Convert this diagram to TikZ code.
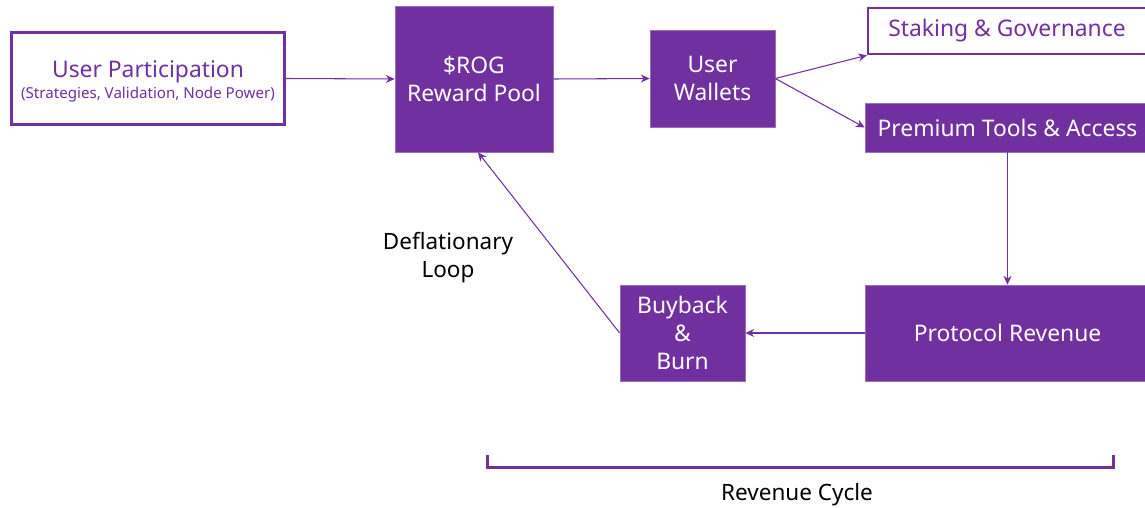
\documentclass[tikz,border=0pt]{standalone}
\usepackage{fontspec}
\setmainfont{Noto Sans}
\usetikzlibrary{arrows.meta}
\definecolor{rogpurple}{HTML}{7030A0}

\begin{document}
\begin{tikzpicture}[x=0.02cm, y=-0.02cm,
        solidbox/.style={fill=rogpurple, draw=rogpurple!70!white, line width=0.4pt, text=white, align=center, inner sep=0pt, font=\fontsize{13}{15.9}\selectfont},
        openbox/.style={fill=white, draw=rogpurple, text=rogpurple, align=center, inner sep=0pt, font=\fontsize{13}{15.9}\selectfont},
        flow/.style={rogpurple, line width=0.6pt, -{Stealth[length=5pt, width=4.5pt]}},
        caption/.style={align=center, text=black, font=\fontsize{12.8}{15.9}\selectfont}]
        \clip (0,0) rectangle (1145,507);
        \fill[white] (0,0) rectangle (1145,507);
        \node [openbox, line width=1.7pt, minimum width=5.46cm, minimum height=1.84cm] (part) at (148,78.5) {};
        \node [text=rogpurple, align=center, inner sep=0pt, font=\fontsize{13}{15.9}\selectfont] (parttext) at (148,81)
            {User Participation\\[-4pt]{\fontsize{8.6}{10}\selectfont(Strategies, Validation, Node Power)}};
        \node [solidbox, minimum width=3.16cm, minimum height=2.92cm] (pool) at (474,79) {\$ROG\\Reward Pool};
        \node [solidbox, minimum width=2.5cm, minimum height=1.94cm] (wallets) at (712.5,78.5) {User\\Wallets};
        \node [openbox, line width=1.3pt, anchor=north west, minimum width=5.7cm, minimum height=0.92cm] (staking) at (867,7) {};
        \node [text=rogpurple, font=\fontsize{13}{15.9}\selectfont] (stakingtext) at (1007,31) {Staking \& Governance};
        \node [solidbox, minimum width=5.7cm, minimum height=0.98cm] (premium) at (1007.5,127.5) {Premium Tools \& Access};
        \node [solidbox, minimum width=5.7cm, minimum height=1.92cm] (revenue) at (1007.5,333) {Protocol Revenue};
        \node [solidbox, minimum width=2.5cm, minimum height=1.92cm] (burn) at (682.5,333) {Buyback\\\&\\Burn};
        \node [caption] (loop) at (448,258) {Deflationary\\Loop};
        \node [caption] (cycle) at (797,495) {Revenue Cycle};
        \draw [flow] (part.east) -- (pool.west);
        \draw [flow] (pool.east) -- (wallets.west);
        \draw [flow] (wallets.east) -- (staking.south west);
        \draw [flow] (wallets.east) -- (premium.west);
        \draw [flow] (premium.south) -- (revenue.north);
        \draw [flow] (revenue.west) -- (burn.east);
        \draw [flow] (burn.west) -- ([xshift=0.08cm]pool.south);
        \draw [rogpurple, line width=1.7pt] (487,455) -- (487,467) -- (1113,467) -- (1113,455);
\end{tikzpicture}
\end{document}
